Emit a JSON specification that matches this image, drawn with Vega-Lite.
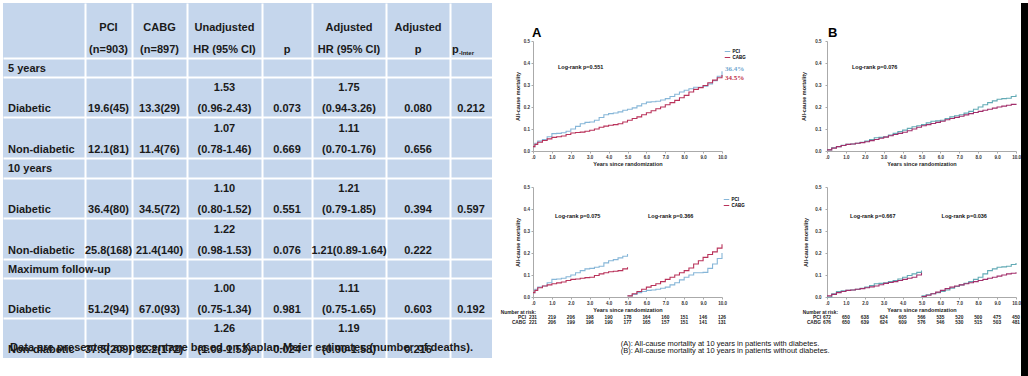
{
  "$schema": "https://vega.github.io/schema/vega-lite/v6.json",
  "padding": {"left": 3, "top": 3, "right": 0, "bottom": 0},
  "background": "white",
  "config": {
    "font": "Liberation Sans",
    "view": {"stroke": null},
    "axis": {"labelFont": "Liberation Sans", "titleFont": "Liberation Sans", "labelFontSize": 4.5, "labelFontWeight": "bold", "titleFontSize": 5.5, "titleFontWeight": "bold", "labelColor": "#333", "titleColor": "#222", "domainColor": "#aaa", "tickColor": "#aaa", "tickSize": 2, "labelPadding": 1.5, "titlePadding": 2.5, "grid": false, "labelFlush": false, "labelOverlap": false, "labelBound": false},
    "legend": {"labelFont": "Liberation Sans", "labelFontSize": 4.5, "labelFontWeight": "bold", "symbolType": "stroke", "symbolSize": 30, "symbolStrokeWidth": 1, "rowPadding": 0, "padding": 0, "labelOffset": 1.5, "title": null},
    "title": {"font": "Liberation Sans", "color": "#000"}
  },
  "datasets": {
    "tbl": [
      {"k":"h","r":0,"c":1,"a":"PCI","b":"(n=903)"},
      {"k":"h","r":0,"c":2,"a":"CABG","b":"(n=897)"},
      {"k":"h","r":0,"c":3,"a":"Unadjusted","b":"HR (95% CI)"},
      {"k":"h","r":0,"c":4,"a":"","b":"p"},
      {"k":"h","r":0,"c":5,"a":"Adjusted","b":"HR (95% CI)"},
      {"k":"h","r":0,"c":6,"a":"Adjusted","b":"p"},
      {"k":"hp","r":0,"c":7,"a":"p","b":"-Inter"},
      {"k":"s","r":1,"c":0,"a":"5 years","b":""},
      {"k":"l","r":2,"c":0,"a":"","b":"Diabetic"},
      {"k":"v","r":2,"c":1,"a":"","b":"19.6(45)"},
      {"k":"v","r":2,"c":2,"a":"","b":"13.3(29)"},
      {"k":"v","r":2,"c":3,"a":"1.53","b":"(0.96-2.43)"},
      {"k":"v","r":2,"c":4,"a":"","b":"0.073"},
      {"k":"v","r":2,"c":5,"a":"1.75","b":"(0.94-3.26)"},
      {"k":"v","r":2,"c":6,"a":"","b":"0.080"},
      {"k":"v","r":2,"c":7,"a":"","b":"0.212"},
      {"k":"l","r":3,"c":0,"a":"","b":"Non-diabetic"},
      {"k":"v","r":3,"c":1,"a":"","b":"12.1(81)"},
      {"k":"v","r":3,"c":2,"a":"","b":"11.4(76)"},
      {"k":"v","r":3,"c":3,"a":"1.07","b":"(0.78-1.46)"},
      {"k":"v","r":3,"c":4,"a":"","b":"0.669"},
      {"k":"v","r":3,"c":5,"a":"1.11","b":"(0.70-1.76)"},
      {"k":"v","r":3,"c":6,"a":"","b":"0.656"},
      {"k":"s","r":4,"c":0,"a":"10 years","b":""},
      {"k":"l","r":5,"c":0,"a":"","b":"Diabetic"},
      {"k":"v","r":5,"c":1,"a":"","b":"36.4(80)"},
      {"k":"v","r":5,"c":2,"a":"","b":"34.5(72)"},
      {"k":"v","r":5,"c":3,"a":"1.10","b":"(0.80-1.52)"},
      {"k":"v","r":5,"c":4,"a":"","b":"0.551"},
      {"k":"v","r":5,"c":5,"a":"1.21","b":"(0.79-1.85)"},
      {"k":"v","r":5,"c":6,"a":"","b":"0.394"},
      {"k":"v","r":5,"c":7,"a":"","b":"0.597"},
      {"k":"l","r":6,"c":0,"a":"","b":"Non-diabetic"},
      {"k":"v","r":6,"c":1,"a":"","b":"25.8(168)"},
      {"k":"v","r":6,"c":2,"a":"","b":"21.4(140)"},
      {"k":"v","r":6,"c":3,"a":"1.22","b":"(0.98-1.53)"},
      {"k":"v","r":6,"c":4,"a":"","b":"0.076"},
      {"k":"v","r":6,"c":5,"a":"","b":"1.21(0.89-1.64)"},
      {"k":"v","r":6,"c":6,"a":"","b":"0.222"},
      {"k":"s","r":7,"c":0,"a":"Maximum follow-up","b":""},
      {"k":"l","r":8,"c":0,"a":"","b":"Diabetic"},
      {"k":"v","r":8,"c":1,"a":"","b":"51.2(94)"},
      {"k":"v","r":8,"c":2,"a":"","b":"67.0(93)"},
      {"k":"v","r":8,"c":3,"a":"1.00","b":"(0.75-1.34)"},
      {"k":"v","r":8,"c":4,"a":"","b":"0.981"},
      {"k":"v","r":8,"c":5,"a":"1.11","b":"(0.75-1.65)"},
      {"k":"v","r":8,"c":6,"a":"","b":"0.603"},
      {"k":"v","r":8,"c":7,"a":"","b":"0.192"},
      {"k":"l","r":9,"c":0,"a":"","b":"Non-diabetic"},
      {"k":"v","r":9,"c":1,"a":"","b":"37.5(209)"},
      {"k":"v","r":9,"c":2,"a":"","b":"32.2(172)"},
      {"k":"v","r":9,"c":3,"a":"1.26","b":"(1.03-1.53)"},
      {"k":"v","r":9,"c":4,"a":"","b":"0.024"},
      {"k":"v","r":9,"c":5,"a":"1.19","b":"(0.90-1.58)"},
      {"k":"v","r":9,"c":6,"a":"","b":"0.216"},
      {"k":"f","r":9,"c":0,"a":"","b":"Data are presented as percentage based on Kaplan-Meier estimates (number of deaths)."}
    ],
    "kmA": [
      {"a":"PCI","t":0,"v":0.02},{"a":"PCI","t":0.1,"v":0.035},{"a":"PCI","t":0.25,"v":0.045},{"a":"PCI","t":0.5,"v":0.052},{"a":"PCI","t":0.75,"v":0.065},{"a":"PCI","t":1,"v":0.079},{"a":"PCI","t":1.25,"v":0.08},{"a":"PCI","t":1.5,"v":0.083},{"a":"PCI","t":1.75,"v":0.09},{"a":"PCI","t":2,"v":0.1},{"a":"PCI","t":2.25,"v":0.112},{"a":"PCI","t":2.5,"v":0.124},{"a":"PCI","t":2.75,"v":0.13},{"a":"PCI","t":3,"v":0.132},{"a":"PCI","t":3.25,"v":0.14},{"a":"PCI","t":3.5,"v":0.152},{"a":"PCI","t":3.75,"v":0.165},{"a":"PCI","t":4,"v":0.17},{"a":"PCI","t":4.25,"v":0.173},{"a":"PCI","t":4.5,"v":0.178},{"a":"PCI","t":4.75,"v":0.185},{"a":"PCI","t":5,"v":0.19},{"a":"PCI","t":5.25,"v":0.196},{"a":"PCI","t":5.5,"v":0.205},{"a":"PCI","t":5.75,"v":0.215},{"a":"PCI","t":6,"v":0.222},{"a":"PCI","t":6.25,"v":0.224},{"a":"PCI","t":6.5,"v":0.226},{"a":"PCI","t":6.75,"v":0.232},{"a":"PCI","t":7,"v":0.238},{"a":"PCI","t":7.25,"v":0.248},{"a":"PCI","t":7.5,"v":0.258},{"a":"PCI","t":7.75,"v":0.268},{"a":"PCI","t":8,"v":0.276},{"a":"PCI","t":8.25,"v":0.283},{"a":"PCI","t":8.5,"v":0.29},{"a":"PCI","t":8.75,"v":0.29},{"a":"PCI","t":9,"v":0.295},{"a":"PCI","t":9.25,"v":0.305},{"a":"PCI","t":9.5,"v":0.32},{"a":"PCI","t":9.75,"v":0.34},{"a":"PCI","t":10,"v":0.362},
      {"a":"CABG","t":0,"v":0.02},{"a":"CABG","t":0.1,"v":0.03},{"a":"CABG","t":0.25,"v":0.04},{"a":"CABG","t":0.5,"v":0.048},{"a":"CABG","t":0.75,"v":0.055},{"a":"CABG","t":1,"v":0.062},{"a":"CABG","t":1.25,"v":0.065},{"a":"CABG","t":1.5,"v":0.068},{"a":"CABG","t":1.75,"v":0.075},{"a":"CABG","t":2,"v":0.082},{"a":"CABG","t":2.25,"v":0.084},{"a":"CABG","t":2.5,"v":0.086},{"a":"CABG","t":2.75,"v":0.09},{"a":"CABG","t":3,"v":0.094},{"a":"CABG","t":3.25,"v":0.1},{"a":"CABG","t":3.5,"v":0.108},{"a":"CABG","t":3.75,"v":0.113},{"a":"CABG","t":4,"v":0.117},{"a":"CABG","t":4.25,"v":0.12},{"a":"CABG","t":4.5,"v":0.124},{"a":"CABG","t":4.75,"v":0.132},{"a":"CABG","t":5,"v":0.14},{"a":"CABG","t":5.25,"v":0.148},{"a":"CABG","t":5.5,"v":0.155},{"a":"CABG","t":5.75,"v":0.165},{"a":"CABG","t":6,"v":0.174},{"a":"CABG","t":6.25,"v":0.183},{"a":"CABG","t":6.5,"v":0.192},{"a":"CABG","t":6.75,"v":0.2},{"a":"CABG","t":7,"v":0.21},{"a":"CABG","t":7.25,"v":0.22},{"a":"CABG","t":7.5,"v":0.23},{"a":"CABG","t":7.75,"v":0.242},{"a":"CABG","t":8,"v":0.253},{"a":"CABG","t":8.25,"v":0.268},{"a":"CABG","t":8.5,"v":0.28},{"a":"CABG","t":8.75,"v":0.288},{"a":"CABG","t":9,"v":0.298},{"a":"CABG","t":9.25,"v":0.31},{"a":"CABG","t":9.5,"v":0.322},{"a":"CABG","t":9.75,"v":0.333},{"a":"CABG","t":10,"v":0.345}
    ],
    "kmB": [
      {"a":"PCI","t":0,"v":0.005},{"a":"PCI","t":0.25,"v":0.015},{"a":"PCI","t":0.5,"v":0.02},{"a":"PCI","t":0.75,"v":0.026},{"a":"PCI","t":1,"v":0.03},{"a":"PCI","t":1.25,"v":0.032},{"a":"PCI","t":1.5,"v":0.035},{"a":"PCI","t":1.75,"v":0.04},{"a":"PCI","t":2,"v":0.045},{"a":"PCI","t":2.25,"v":0.052},{"a":"PCI","t":2.5,"v":0.06},{"a":"PCI","t":2.75,"v":0.062},{"a":"PCI","t":3,"v":0.065},{"a":"PCI","t":3.25,"v":0.072},{"a":"PCI","t":3.5,"v":0.08},{"a":"PCI","t":3.75,"v":0.088},{"a":"PCI","t":4,"v":0.095},{"a":"PCI","t":4.25,"v":0.103},{"a":"PCI","t":4.5,"v":0.11},{"a":"PCI","t":4.75,"v":0.115},{"a":"PCI","t":5,"v":0.12},{"a":"PCI","t":5.25,"v":0.128},{"a":"PCI","t":5.5,"v":0.135},{"a":"PCI","t":5.75,"v":0.137},{"a":"PCI","t":6,"v":0.14},{"a":"PCI","t":6.25,"v":0.148},{"a":"PCI","t":6.5,"v":0.155},{"a":"PCI","t":6.75,"v":0.16},{"a":"PCI","t":7,"v":0.165},{"a":"PCI","t":7.25,"v":0.172},{"a":"PCI","t":7.5,"v":0.18},{"a":"PCI","t":7.75,"v":0.19},{"a":"PCI","t":8,"v":0.2},{"a":"PCI","t":8.25,"v":0.21},{"a":"PCI","t":8.5,"v":0.22},{"a":"PCI","t":8.75,"v":0.228},{"a":"PCI","t":9,"v":0.235},{"a":"PCI","t":9.25,"v":0.238},{"a":"PCI","t":9.5,"v":0.24},{"a":"PCI","t":9.75,"v":0.248},{"a":"PCI","t":10,"v":0.257},
      {"a":"CABG","t":0,"v":0.005},{"a":"CABG","t":0.25,"v":0.013},{"a":"CABG","t":0.5,"v":0.02},{"a":"CABG","t":0.75,"v":0.025},{"a":"CABG","t":1,"v":0.03},{"a":"CABG","t":1.25,"v":0.032},{"a":"CABG","t":1.5,"v":0.035},{"a":"CABG","t":1.75,"v":0.038},{"a":"CABG","t":2,"v":0.042},{"a":"CABG","t":2.25,"v":0.047},{"a":"CABG","t":2.5,"v":0.052},{"a":"CABG","t":2.75,"v":0.058},{"a":"CABG","t":3,"v":0.063},{"a":"CABG","t":3.25,"v":0.069},{"a":"CABG","t":3.5,"v":0.075},{"a":"CABG","t":3.75,"v":0.08},{"a":"CABG","t":4,"v":0.085},{"a":"CABG","t":4.25,"v":0.092},{"a":"CABG","t":4.5,"v":0.1},{"a":"CABG","t":4.75,"v":0.108},{"a":"CABG","t":5,"v":0.115},{"a":"CABG","t":5.25,"v":0.12},{"a":"CABG","t":5.5,"v":0.125},{"a":"CABG","t":5.75,"v":0.13},{"a":"CABG","t":6,"v":0.135},{"a":"CABG","t":6.25,"v":0.142},{"a":"CABG","t":6.5,"v":0.148},{"a":"CABG","t":6.75,"v":0.153},{"a":"CABG","t":7,"v":0.158},{"a":"CABG","t":7.25,"v":0.164},{"a":"CABG","t":7.5,"v":0.17},{"a":"CABG","t":7.75,"v":0.175},{"a":"CABG","t":8,"v":0.18},{"a":"CABG","t":8.25,"v":0.185},{"a":"CABG","t":8.5,"v":0.19},{"a":"CABG","t":8.75,"v":0.195},{"a":"CABG","t":9,"v":0.2},{"a":"CABG","t":9.25,"v":0.204},{"a":"CABG","t":9.5,"v":0.208},{"a":"CABG","t":9.75,"v":0.212},{"a":"CABG","t":10,"v":0.215}
    ],
    "kmC": [
      {"a":"PCI","s":1,"t":0,"v":0.02},{"a":"PCI","s":1,"t":0.1,"v":0.035},{"a":"PCI","s":1,"t":0.25,"v":0.045},{"a":"PCI","s":1,"t":0.5,"v":0.05},{"a":"PCI","s":1,"t":0.75,"v":0.065},{"a":"PCI","s":1,"t":1,"v":0.08},{"a":"PCI","s":1,"t":1.25,"v":0.082},{"a":"PCI","s":1,"t":1.5,"v":0.085},{"a":"PCI","s":1,"t":1.75,"v":0.092},{"a":"PCI","s":1,"t":2,"v":0.1},{"a":"PCI","s":1,"t":2.25,"v":0.11},{"a":"PCI","s":1,"t":2.5,"v":0.12},{"a":"PCI","s":1,"t":2.75,"v":0.128},{"a":"PCI","s":1,"t":3,"v":0.13},{"a":"PCI","s":1,"t":3.25,"v":0.135},{"a":"PCI","s":1,"t":3.5,"v":0.14},{"a":"PCI","s":1,"t":3.75,"v":0.155},{"a":"PCI","s":1,"t":4,"v":0.165},{"a":"PCI","s":1,"t":4.25,"v":0.17},{"a":"PCI","s":1,"t":4.5,"v":0.178},{"a":"PCI","s":1,"t":4.75,"v":0.185},{"a":"PCI","s":1,"t":5,"v":0.195},
      {"a":"CABG","s":1,"t":0,"v":0.02},{"a":"CABG","s":1,"t":0.1,"v":0.03},{"a":"CABG","s":1,"t":0.25,"v":0.042},{"a":"CABG","s":1,"t":0.5,"v":0.05},{"a":"CABG","s":1,"t":0.75,"v":0.055},{"a":"CABG","s":1,"t":1,"v":0.06},{"a":"CABG","s":1,"t":1.25,"v":0.064},{"a":"CABG","s":1,"t":1.5,"v":0.068},{"a":"CABG","s":1,"t":1.75,"v":0.075},{"a":"CABG","s":1,"t":2,"v":0.08},{"a":"CABG","s":1,"t":2.25,"v":0.082},{"a":"CABG","s":1,"t":2.5,"v":0.085},{"a":"CABG","s":1,"t":2.75,"v":0.088},{"a":"CABG","s":1,"t":3,"v":0.09},{"a":"CABG","s":1,"t":3.25,"v":0.098},{"a":"CABG","s":1,"t":3.5,"v":0.105},{"a":"CABG","s":1,"t":3.75,"v":0.11},{"a":"CABG","s":1,"t":4,"v":0.115},{"a":"CABG","s":1,"t":4.25,"v":0.117},{"a":"CABG","s":1,"t":4.5,"v":0.12},{"a":"CABG","s":1,"t":4.75,"v":0.128},{"a":"CABG","s":1,"t":5,"v":0.135},
      {"a":"PCI","s":2,"t":5,"v":0.005},{"a":"PCI","s":2,"t":5.25,"v":0.012},{"a":"PCI","s":2,"t":5.5,"v":0.02},{"a":"PCI","s":2,"t":5.75,"v":0.025},{"a":"PCI","s":2,"t":6,"v":0.03},{"a":"PCI","s":2,"t":6.25,"v":0.032},{"a":"PCI","s":2,"t":6.5,"v":0.035},{"a":"PCI","s":2,"t":6.75,"v":0.04},{"a":"PCI","s":2,"t":7,"v":0.045},{"a":"PCI","s":2,"t":7.25,"v":0.055},{"a":"PCI","s":2,"t":7.5,"v":0.065},{"a":"PCI","s":2,"t":7.75,"v":0.078},{"a":"PCI","s":2,"t":8,"v":0.09},{"a":"PCI","s":2,"t":8.25,"v":0.1},{"a":"PCI","s":2,"t":8.5,"v":0.11},{"a":"PCI","s":2,"t":8.75,"v":0.11},{"a":"PCI","s":2,"t":9,"v":0.112},{"a":"PCI","s":2,"t":9.25,"v":0.13},{"a":"PCI","s":2,"t":9.5,"v":0.15},{"a":"PCI","s":2,"t":9.75,"v":0.175},{"a":"PCI","s":2,"t":10,"v":0.2},
      {"a":"CABG","s":2,"t":5,"v":0.005},{"a":"CABG","s":2,"t":5.25,"v":0.015},{"a":"CABG","s":2,"t":5.5,"v":0.025},{"a":"CABG","s":2,"t":5.75,"v":0.035},{"a":"CABG","s":2,"t":6,"v":0.045},{"a":"CABG","s":2,"t":6.25,"v":0.052},{"a":"CABG","s":2,"t":6.5,"v":0.06},{"a":"CABG","s":2,"t":6.75,"v":0.07},{"a":"CABG","s":2,"t":7,"v":0.08},{"a":"CABG","s":2,"t":7.25,"v":0.09},{"a":"CABG","s":2,"t":7.5,"v":0.1},{"a":"CABG","s":2,"t":7.75,"v":0.11},{"a":"CABG","s":2,"t":8,"v":0.12},{"a":"CABG","s":2,"t":8.25,"v":0.132},{"a":"CABG","s":2,"t":8.5,"v":0.15},{"a":"CABG","s":2,"t":8.75,"v":0.165},{"a":"CABG","s":2,"t":9,"v":0.18},{"a":"CABG","s":2,"t":9.25,"v":0.193},{"a":"CABG","s":2,"t":9.5,"v":0.205},{"a":"CABG","s":2,"t":9.75,"v":0.222},{"a":"CABG","s":2,"t":10,"v":0.24}
    ],
    "kmD": [
      {"a":"PCI","s":1,"t":0,"v":0.0},{"a":"PCI","s":1,"t":0.25,"v":0.015},{"a":"PCI","s":1,"t":0.5,"v":0.025},{"a":"PCI","s":1,"t":0.75,"v":0.028},{"a":"PCI","s":1,"t":1,"v":0.03},{"a":"PCI","s":1,"t":1.25,"v":0.032},{"a":"PCI","s":1,"t":1.5,"v":0.035},{"a":"PCI","s":1,"t":1.75,"v":0.04},{"a":"PCI","s":1,"t":2,"v":0.045},{"a":"PCI","s":1,"t":2.25,"v":0.052},{"a":"PCI","s":1,"t":2.5,"v":0.06},{"a":"PCI","s":1,"t":2.75,"v":0.062},{"a":"PCI","s":1,"t":3,"v":0.065},{"a":"PCI","s":1,"t":3.25,"v":0.07},{"a":"PCI","s":1,"t":3.5,"v":0.075},{"a":"PCI","s":1,"t":3.75,"v":0.082},{"a":"PCI","s":1,"t":4,"v":0.09},{"a":"PCI","s":1,"t":4.25,"v":0.098},{"a":"PCI","s":1,"t":4.5,"v":0.105},{"a":"PCI","s":1,"t":4.75,"v":0.112},{"a":"PCI","s":1,"t":5,"v":0.12},
      {"a":"CABG","s":1,"t":0,"v":0.005},{"a":"CABG","s":1,"t":0.25,"v":0.012},{"a":"CABG","s":1,"t":0.5,"v":0.02},{"a":"CABG","s":1,"t":0.75,"v":0.025},{"a":"CABG","s":1,"t":1,"v":0.03},{"a":"CABG","s":1,"t":1.25,"v":0.032},{"a":"CABG","s":1,"t":1.5,"v":0.035},{"a":"CABG","s":1,"t":1.75,"v":0.038},{"a":"CABG","s":1,"t":2,"v":0.042},{"a":"CABG","s":1,"t":2.25,"v":0.046},{"a":"CABG","s":1,"t":2.5,"v":0.05},{"a":"CABG","s":1,"t":2.75,"v":0.056},{"a":"CABG","s":1,"t":3,"v":0.062},{"a":"CABG","s":1,"t":3.25,"v":0.066},{"a":"CABG","s":1,"t":3.5,"v":0.07},{"a":"CABG","s":1,"t":3.75,"v":0.075},{"a":"CABG","s":1,"t":4,"v":0.08},{"a":"CABG","s":1,"t":4.25,"v":0.085},{"a":"CABG","s":1,"t":4.5,"v":0.09},{"a":"CABG","s":1,"t":4.75,"v":0.1},{"a":"CABG","s":1,"t":5,"v":0.11},
      {"a":"PCI","s":2,"t":5,"v":0.005},{"a":"PCI","s":2,"t":5.25,"v":0.01},{"a":"PCI","s":2,"t":5.5,"v":0.015},{"a":"PCI","s":2,"t":5.75,"v":0.02},{"a":"PCI","s":2,"t":6,"v":0.025},{"a":"PCI","s":2,"t":6.25,"v":0.032},{"a":"PCI","s":2,"t":6.5,"v":0.04},{"a":"PCI","s":2,"t":6.75,"v":0.048},{"a":"PCI","s":2,"t":7,"v":0.055},{"a":"PCI","s":2,"t":7.25,"v":0.062},{"a":"PCI","s":2,"t":7.5,"v":0.07},{"a":"PCI","s":2,"t":7.75,"v":0.08},{"a":"PCI","s":2,"t":8,"v":0.09},{"a":"PCI","s":2,"t":8.25,"v":0.105},{"a":"PCI","s":2,"t":8.5,"v":0.12},{"a":"PCI","s":2,"t":8.75,"v":0.128},{"a":"PCI","s":2,"t":9,"v":0.135},{"a":"PCI","s":2,"t":9.25,"v":0.137},{"a":"PCI","s":2,"t":9.5,"v":0.14},{"a":"PCI","s":2,"t":9.75,"v":0.148},{"a":"PCI","s":2,"t":10,"v":0.155},
      {"a":"CABG","s":2,"t":5,"v":0.002},{"a":"CABG","s":2,"t":5.25,"v":0.008},{"a":"CABG","s":2,"t":5.5,"v":0.015},{"a":"CABG","s":2,"t":5.75,"v":0.022},{"a":"CABG","s":2,"t":6,"v":0.03},{"a":"CABG","s":2,"t":6.25,"v":0.038},{"a":"CABG","s":2,"t":6.5,"v":0.045},{"a":"CABG","s":2,"t":6.75,"v":0.05},{"a":"CABG","s":2,"t":7,"v":0.055},{"a":"CABG","s":2,"t":7.25,"v":0.06},{"a":"CABG","s":2,"t":7.5,"v":0.065},{"a":"CABG","s":2,"t":7.75,"v":0.07},{"a":"CABG","s":2,"t":8,"v":0.075},{"a":"CABG","s":2,"t":8.25,"v":0.08},{"a":"CABG","s":2,"t":8.5,"v":0.085},{"a":"CABG","s":2,"t":8.75,"v":0.09},{"a":"CABG","s":2,"t":9,"v":0.095},{"a":"CABG","s":2,"t":9.25,"v":0.1},{"a":"CABG","s":2,"t":9.5,"v":0.105},{"a":"CABG","s":2,"t":9.75,"v":0.108},{"a":"CABG","s":2,"t":10,"v":0.112}
    ],
    "lrA": [{"t":1.32,"v":0.38,"label":"Log-rank p=0.551"}],
    "lrB": [{"t":1.32,"v":0.38,"label":"Log-rank p=0.076"}],
    "lrC": [{"t":1.16,"v":0.368,"label":"Log-rank p=0.075"},{"t":6.08,"v":0.368,"label":"Log-rank p=0.366"}],
    "lrD": [{"t":1.22,"v":0.37,"label":"Log-rank p=0.667"},{"t":6.06,"v":0.37,"label":"Log-rank p=0.036"}],
    "endA": [{"a":"PCI","t":10,"v":0.364,"lab":"36.4%"},{"a":"CABG","t":10,"v":0.345,"lab":"34.5%"}],
    "riskC": [
      {"k":"head","a":"Number at risk:","t":0,"n":"Number at risk:"},
      {"k":"lab","a":"PCI","t":0,"n":"PCI"},{"k":"lab","a":"CABG","t":0,"n":"CABG"},
      {"k":"num","a":"PCI","t":0,"n":"231"},{"k":"num","a":"PCI","t":1,"n":"219"},{"k":"num","a":"PCI","t":2,"n":"206"},{"k":"num","a":"PCI","t":3,"n":"198"},{"k":"num","a":"PCI","t":4,"n":"190"},{"k":"num","a":"PCI","t":5,"n":"178"},{"k":"num","a":"PCI","t":6,"n":"164"},{"k":"num","a":"PCI","t":7,"n":"160"},{"k":"num","a":"PCI","t":8,"n":"151"},{"k":"num","a":"PCI","t":9,"n":"146"},{"k":"num","a":"PCI","t":10,"n":"126"},
      {"k":"num","a":"CABG","t":0,"n":"221"},{"k":"num","a":"CABG","t":1,"n":"206"},{"k":"num","a":"CABG","t":2,"n":"199"},{"k":"num","a":"CABG","t":3,"n":"196"},{"k":"num","a":"CABG","t":4,"n":"190"},{"k":"num","a":"CABG","t":5,"n":"177"},{"k":"num","a":"CABG","t":6,"n":"165"},{"k":"num","a":"CABG","t":7,"n":"157"},{"k":"num","a":"CABG","t":8,"n":"151"},{"k":"num","a":"CABG","t":9,"n":"141"},{"k":"num","a":"CABG","t":10,"n":"131"}
    ],
    "riskD": [
      {"k":"head","a":"Number at risk:","t":0,"n":"Number at risk:"},
      {"k":"lab","a":"PCI","t":0,"n":"PCI"},{"k":"lab","a":"CABG","t":0,"n":"CABG"},
      {"k":"num","a":"PCI","t":0,"n":"672"},{"k":"num","a":"PCI","t":1,"n":"650"},{"k":"num","a":"PCI","t":2,"n":"638"},{"k":"num","a":"PCI","t":3,"n":"624"},{"k":"num","a":"PCI","t":4,"n":"605"},{"k":"num","a":"PCI","t":5,"n":"566"},{"k":"num","a":"PCI","t":6,"n":"535"},{"k":"num","a":"PCI","t":7,"n":"520"},{"k":"num","a":"PCI","t":8,"n":"500"},{"k":"num","a":"PCI","t":9,"n":"475"},{"k":"num","a":"PCI","t":10,"n":"450"},
      {"k":"num","a":"CABG","t":0,"n":"676"},{"k":"num","a":"CABG","t":1,"n":"650"},{"k":"num","a":"CABG","t":2,"n":"639"},{"k":"num","a":"CABG","t":3,"n":"624"},{"k":"num","a":"CABG","t":4,"n":"609"},{"k":"num","a":"CABG","t":5,"n":"576"},{"k":"num","a":"CABG","t":6,"n":"546"},{"k":"num","a":"CABG","t":7,"n":"530"},{"k":"num","a":"CABG","t":8,"n":"515"},{"k":"num","a":"CABG","t":9,"n":"503"},{"k":"num","a":"CABG","t":10,"n":"481"}
    ]
  },
  "hconcat": [
    {
      "width": 489,
      "height": 355,
      "view": {"fill": "#c5d6ec", "stroke": null},
      "data": {"name": "tbl"},
      "encoding": {
        "x": {"field": "c", "type": "quantitative", "scale": {"domain": [-0.5, 0.5, 1.5, 2.5, 3.5, 4.5, 5.5, 6.5, 7.5], "range": [0, 82, 129, 184, 259, 309, 383, 447, 489], "nice": false, "zero": false}, "axis": {"values": [0.5, 1.5, 2.5, 3.5, 4.5, 5.5, 6.5], "grid": true, "gridColor": "#ffffff", "gridWidth": 2, "gridOpacity": 1, "labels": false, "ticks": false, "domain": false, "title": null}},
        "y": {"field": "r", "type": "quantitative", "scale": {"domain": [-0.5, 0.5, 1.5, 2.5, 3.5, 4.5, 5.5, 6.5, 7.5, 8.5, 9.5], "range": [0, 55, 74, 114, 155, 175, 215, 256, 275, 315, 355], "nice": false, "zero": false}, "axis": {"values": [0.5, 1.5, 2.5, 3.5, 4.5, 5.5, 6.5, 7.5, 8.5], "grid": true, "gridColor": "#ffffff", "gridWidth": 2, "gridOpacity": 1, "labels": false, "ticks": false, "domain": false, "title": null}}
      },
      "layer": [
        {"transform": [{"filter": "datum.k == 'h'"}], "mark": {"type": "text", "fontSize": 11, "fontWeight": "bold", "color": "#1a1a1a", "dy": -2.5}, "encoding": {"text": {"field": "a", "type": "nominal"}}},
        {"transform": [{"filter": "datum.k == 'h'"}], "mark": {"type": "text", "fontSize": 11, "fontWeight": "bold", "color": "#1a1a1a", "dy": 19}, "encoding": {"text": {"field": "b", "type": "nominal"}}},
        {"transform": [{"filter": "datum.k == 'hp'"}], "mark": {"type": "text", "fontSize": 11, "fontWeight": "bold", "color": "#1a1a1a", "align": "left", "dx": -19, "dy": 19.5}, "encoding": {"text": {"field": "a", "type": "nominal"}}},
        {"transform": [{"filter": "datum.k == 'hp'"}], "mark": {"type": "text", "fontSize": 6, "fontWeight": "bold", "color": "#1a1a1a", "align": "left", "dx": -12, "dy": 22.5}, "encoding": {"text": {"field": "b", "type": "nominal"}}},
        {"transform": [{"filter": "datum.k == 's'"}], "mark": {"type": "text", "fontSize": 11, "fontWeight": "bold", "color": "#1a1a1a", "align": "left", "dx": -36, "dy": 1}, "encoding": {"text": {"field": "a", "type": "nominal"}}},
        {"transform": [{"filter": "datum.k == 'l'"}], "mark": {"type": "text", "fontSize": 11, "fontWeight": "bold", "color": "#1a1a1a", "align": "left", "dx": -36, "dy": 12}, "encoding": {"text": {"field": "b", "type": "nominal"}}},
        {"transform": [{"filter": "datum.k == 'v'"}], "mark": {"type": "text", "fontSize": 11, "fontWeight": "bold", "color": "#1a1a1a", "dy": -9}, "encoding": {"text": {"field": "a", "type": "nominal"}}},
        {"transform": [{"filter": "datum.k == 'v'"}], "mark": {"type": "text", "fontSize": 11, "fontWeight": "bold", "color": "#1a1a1a", "dy": 12}, "encoding": {"text": {"field": "b", "type": "nominal"}}},
        {"transform": [{"filter": "datum.k == 'f'"}], "mark": {"type": "text", "fontSize": 11.1, "fontWeight": "bold", "color": "#1a1a1a", "align": "left", "dx": -34, "dy": 10}, "encoding": {"text": {"field": "b", "type": "nominal"}}}
      ]
    },
    {
      "spacing": 0,
      "hconcat": [
        {
          "spacing": 0,
          "vconcat": [
            {"width": 10, "height": 24, "data": {"values": [{}]}, "mark": {"type": "text"}, "encoding": {"text": {"value": ""}}},
            {
              "columns": 2,
              "align": "each",
              "spacing": {"row": 17, "column": 55},
              "resolve": {"scale": {"color": "independent"}},
              "title": {"text": ["(A):  All-cause mortality at 10 years in patients with diabetes.", "(B): All-cause mortality at 10 years in patients without diabetes."], "orient": "bottom", "anchor": "start", "fontSize": 7.5, "fontWeight": "normal", "lineHeight": 7, "offset": 15, "dx": 120, "color": "#111"},
              "concat": [
                {
                  "width": 189, "height": 110,
                  "title": {"text": "A", "anchor": "start", "frame": "group", "fontSize": 13, "fontWeight": "bold", "offset": -2, "dx": -1},
                  "encoding": {
                    "x": {"field": "t", "type": "quantitative", "scale": {"domain": [0, 10], "nice": false}, "axis": {"values": [0,1,2,3,4,5,6,7,8,9,10], "labelExpr": "datum.value == 0 ? '.0' : format(datum.value, '.1f')", "title": "Years since randomization"}},
                    "y": {"field": "v", "type": "quantitative", "scale": {"domain": [0, 0.5], "nice": false}, "axis": {"values": [0, 0.1, 0.2, 0.3, 0.4, 0.5], "format": ".1f", "title": "All-cause mortality"}}
                  },
                  "layer": [
                    {"data": {"name": "kmA"}, "mark": {"type": "line", "interpolate": "step-after", "strokeWidth": 1.1}, "encoding": {"color": {"field": "a", "type": "nominal", "scale": {"domain": ["PCI", "CABG"], "range": ["#86b6d8", "#b9325a"]}, "legend": {"orient": "none", "legendX": 191, "legendY": 7}}}},
                    {"data": {"name": "lrA"}, "mark": {"type": "text", "align": "left", "fontSize": 5.5, "fontWeight": "bold", "color": "#111"}, "encoding": {"text": {"field": "label", "type": "nominal"}}},
                    {"data": {"name": "endA"}, "transform": [{"filter": "datum.a == 'PCI'"}], "mark": {"type": "text", "align": "left", "dx": 3, "dy": -2, "font": "Liberation Serif", "fontWeight": "bold", "fontSize": 7, "color": "#6fa6cf"}, "encoding": {"text": {"field": "lab", "type": "nominal"}}},
                    {"data": {"name": "endA"}, "transform": [{"filter": "datum.a == 'CABG'"}], "mark": {"type": "text", "align": "left", "dx": 3, "dy": 3, "font": "Liberation Serif", "fontWeight": "bold", "fontSize": 7, "color": "#c0304a"}, "encoding": {"text": {"field": "lab", "type": "nominal"}}}
                  ]
                },
                {
                  "width": 189, "height": 110,
                  "title": {"text": "B", "anchor": "start", "frame": "group", "fontSize": 13, "fontWeight": "bold", "offset": -2, "dx": 1},
                  "encoding": {
                    "x": {"field": "t", "type": "quantitative", "scale": {"domain": [0, 10], "nice": false}, "axis": {"values": [0,1,2,3,4,5,6,7,8,9,10], "labelExpr": "datum.value == 0 ? '.0' : format(datum.value, '.1f')", "title": "Years since randomization"}},
                    "y": {"field": "v", "type": "quantitative", "scale": {"domain": [0, 0.5], "nice": false}, "axis": {"values": [0, 0.1, 0.2, 0.3, 0.4, 0.5], "format": ".1f", "title": "All-cause mortality", "labelPadding": 4, "titlePadding": 8}}
                  },
                  "layer": [
                    {"data": {"name": "kmB"}, "mark": {"type": "line", "interpolate": "step-after", "strokeWidth": 1.1}, "encoding": {"color": {"field": "a", "type": "nominal", "scale": {"domain": ["PCI", "CABG"], "range": ["#62aab5", "#a22f6b"]}, "legend": null}}},
                    {"data": {"name": "lrB"}, "mark": {"type": "text", "align": "left", "fontSize": 5.5, "fontWeight": "bold", "color": "#111"}, "encoding": {"text": {"field": "label", "type": "nominal"}}}
                  ]
                },
                {
                  "width": 189, "height": 110,
                  "encoding": {
                    "x": {"field": "t", "type": "quantitative", "scale": {"domain": [0, 10], "nice": false}, "axis": {"values": [0,1,2,3,4,5,6,7,8,9,10], "labelExpr": "datum.value == 0 ? '.0' : format(datum.value, '.1f')", "title": "Years since randomization"}}
                  },
                  "layer": [
                    {
                      "encoding": {"y": {"field": "v", "type": "quantitative", "scale": {"domain": [0, 0.5], "nice": false}, "axis": {"values": [0, 0.1, 0.2, 0.3, 0.4, 0.5], "format": ".1f", "title": "All-cause mortality"}}},
                      "layer": [
                        {"data": {"name": "kmC"}, "mark": {"type": "line", "interpolate": "step-after", "strokeWidth": 1.1}, "encoding": {"color": {"field": "a", "type": "nominal", "scale": {"domain": ["PCI", "CABG"], "range": ["#86b6d8", "#b9325a"]}, "legend": {"orient": "none", "legendX": 190, "legendY": 9}}, "detail": {"field": "s", "type": "nominal"}}},
                        {"data": {"values": [{}]}, "mark": {"type": "rule", "strokeDash": [3, 2], "strokeWidth": 1.2, "color": "#111"}, "encoding": {"x": {"datum": 5}, "y": {"datum": -0.02}, "y2": {"datum": 0.5}}},
                        {"data": {"name": "lrC"}, "mark": {"type": "text", "align": "left", "fontSize": 5.5, "fontWeight": "bold", "color": "#111"}, "encoding": {"text": {"field": "label", "type": "nominal"}}}
                      ]
                    },
                    {
                      "data": {"name": "riskC"},
                      "encoding": {"y": {"field": "a", "type": "nominal", "scale": {"type": "point", "domain": ["Number at risk:", "PCI", "CABG"], "range": [126, 136], "padding": 0}, "axis": null}, "text": {"field": "n", "type": "nominal"}},
                      "layer": [
                        {"transform": [{"filter": "datum.k == 'num'"}], "mark": {"type": "text", "fontSize": 4.8, "fontWeight": "bold", "color": "#222"}},
                        {"transform": [{"filter": "datum.k == 'lab'"}], "mark": {"type": "text", "align": "right", "dx": -7, "fontSize": 4.8, "fontWeight": "bold", "color": "#222"}},
                        {"transform": [{"filter": "datum.k == 'head'"}], "mark": {"type": "text", "align": "right", "dx": 3, "fontSize": 4.8, "fontWeight": "bold", "color": "#222"}}
                      ]
                    }
                  ],
                  "resolve": {"scale": {"y": "independent"}}
                },
                {
                  "width": 189, "height": 110,
                  "encoding": {
                    "x": {"field": "t", "type": "quantitative", "scale": {"domain": [0, 10], "nice": false}, "axis": {"values": [0,1,2,3,4,5,6,7,8,9,10], "labelExpr": "datum.value == 0 ? '.0' : format(datum.value, '.1f')", "title": "Years since randomization"}}
                  },
                  "layer": [
                    {
                      "encoding": {"y": {"field": "v", "type": "quantitative", "scale": {"domain": [0, 0.5], "nice": false}, "axis": {"values": [0, 0.1, 0.2, 0.3, 0.4, 0.5], "format": ".1f", "title": "All-cause mortality", "labelPadding": 4, "titlePadding": 6}}},
                      "layer": [
                        {"data": {"name": "kmD"}, "mark": {"type": "line", "interpolate": "step-after", "strokeWidth": 1.1}, "encoding": {"color": {"field": "a", "type": "nominal", "scale": {"domain": ["PCI", "CABG"], "range": ["#62aab5", "#a22f6b"]}, "legend": null}, "detail": {"field": "s", "type": "nominal"}}},
                        {"data": {"values": [{}]}, "mark": {"type": "rule", "strokeDash": [3, 2], "strokeWidth": 1.2, "color": "#111"}, "encoding": {"x": {"datum": 5}, "y": {"datum": -0.02}, "y2": {"datum": 0.5}}},
                        {"data": {"name": "lrD"}, "mark": {"type": "text", "align": "left", "fontSize": 5.5, "fontWeight": "bold", "color": "#111"}, "encoding": {"text": {"field": "label", "type": "nominal"}}}
                      ]
                    },
                    {
                      "data": {"name": "riskD"},
                      "encoding": {"y": {"field": "a", "type": "nominal", "scale": {"type": "point", "domain": ["Number at risk:", "PCI", "CABG"], "range": [126, 136], "padding": 0}, "axis": null}, "text": {"field": "n", "type": "nominal"}},
                      "layer": [
                        {"transform": [{"filter": "datum.k == 'num'"}], "mark": {"type": "text", "fontSize": 4.8, "fontWeight": "bold", "color": "#222"}},
                        {"transform": [{"filter": "datum.k == 'lab'"}], "mark": {"type": "text", "align": "right", "dx": -6, "fontSize": 4.8, "fontWeight": "bold", "color": "#222"}},
                        {"transform": [{"filter": "datum.k == 'head'"}], "mark": {"type": "text", "align": "right", "dx": 11, "fontSize": 4.8, "fontWeight": "bold", "color": "#222"}}
                      ]
                    }
                  ],
                  "resolve": {"scale": {"y": "independent"}}
                }
              ]
            }
          ]
        },
        {"width": 8, "height": 373, "view": {"fill": "#000000", "stroke": null}, "data": {"values": [{}]}, "mark": {"type": "text"}, "encoding": {"text": {"value": ""}}}
      ]
    }
  ],
  "spacing": 8
}
